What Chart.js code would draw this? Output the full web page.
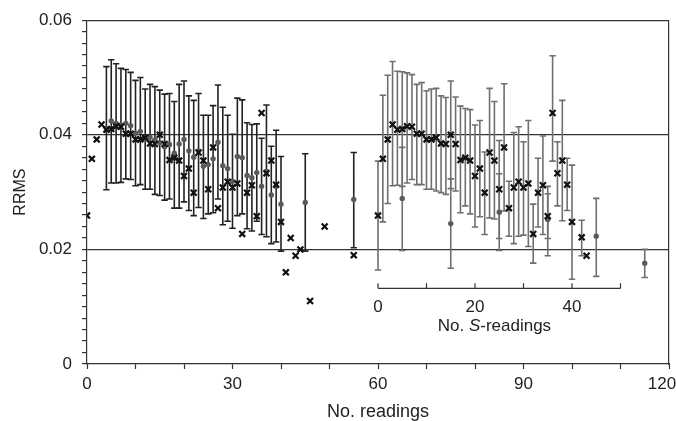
<!DOCTYPE html>
<html>
<head>
<meta charset="utf-8">
<title>RRMS vs number of readings</title>
<script src="https://cdn.jsdelivr.net/npm/chart.js@4.4.1/dist/chart.umd.min.js"></script>
<style>
  html, body { margin: 0; padding: 0; background: #fff; }
</style>
</head>
<body>
<canvas id="rrmsChart" width="676" height="421"></canvas>
<script>
// RRMS for every reading (crosses, left group)
const readingN = [0, 1, 2, 3, 4, 5, 6, 7, 8, 9, 10, 11, 12, 13, 14, 15, 16, 17, 18, 19,
  20, 21, 22, 23, 24, 25, 26, 27, 28, 29, 30, 31, 32, 33, 34, 35, 36, 37, 38, 39,
  40, 41, 42, 43, 44, 46, 49, 55];
const readingRrms = [0.0259, 0.0358, 0.0392, 0.0418, 0.0409, 0.0410, 0.0415, 0.0414, 0.0402, 0.0402,
  0.0392, 0.0392, 0.0395, 0.0385, 0.0384, 0.0400, 0.0384, 0.0356, 0.0360, 0.0355,
  0.0328, 0.0341, 0.0299, 0.0369, 0.0355, 0.0305, 0.0378, 0.0272, 0.0308, 0.0318,
  0.0308, 0.0315, 0.0227, 0.0299, 0.0312, 0.0258, 0.0438, 0.0333, 0.0355, 0.0313,
  0.0248, 0.0160, 0.0220, 0.0189, 0.0200, 0.0110, 0.0240, 0.0190];

// mean RRMS with spread (grey dots, dark bars, left group)
const meanN = [4, 5, 6, 7, 8, 9, 10, 11, 12, 13, 14, 15, 16, 17, 18, 19, 20, 21, 22, 23,
  24, 25, 26, 27, 28, 29, 30, 31, 32, 33, 34, 35, 36, 37, 38, 39, 40, 45, 55];
const meanRrms = [0.0411, 0.0424, 0.0420, 0.0417, 0.0420, 0.0416, 0.0403, 0.0406, 0.0393, 0.0396,
  0.0391, 0.0386, 0.0379, 0.0383, 0.0368, 0.0384, 0.0392, 0.0372, 0.0361, 0.0372,
  0.0345, 0.0348, 0.0358, 0.0387, 0.0346, 0.0341, 0.0319, 0.0362, 0.0360, 0.0329,
  0.0325, 0.0334, 0.0310, 0.0336, 0.0295, 0.0310, 0.0279, 0.0282, 0.0287];
const meanHigh = [0.0519, 0.0531, 0.0524, 0.0516, 0.0514, 0.0509, 0.0495, 0.0500, 0.0480, 0.0488,
  0.0484, 0.0478, 0.0471, 0.0472, 0.0458, 0.0488, 0.0494, 0.0468, 0.0460, 0.0472,
  0.0434, 0.0434, 0.0451, 0.0487, 0.0448, 0.0434, 0.0401, 0.0464, 0.0461, 0.0421,
  0.0418, 0.0419, 0.0394, 0.0452, 0.0380, 0.0408, 0.0362, 0.0367, 0.0369];
const meanLow = [0.0304, 0.0316, 0.0316, 0.0317, 0.0323, 0.0322, 0.0311, 0.0313, 0.0305, 0.0305,
  0.0296, 0.0294, 0.0286, 0.0288, 0.0272, 0.0272, 0.0283, 0.0268, 0.0259, 0.0273,
  0.0254, 0.0262, 0.0264, 0.0288, 0.0243, 0.0249, 0.0237, 0.0259, 0.0262, 0.0236,
  0.0232, 0.0249, 0.0226, 0.0222, 0.0210, 0.0213, 0.0197, 0.0197, 0.0203];

// S-readings (crosses with grey bars, right group, own axis)
const sReadingN = [0, 1, 2, 3, 4, 5, 6, 7, 8, 9, 10, 11, 12, 13, 14, 15, 16, 17, 18, 19,
  20, 21, 22, 23, 24, 25, 26, 27, 28, 29, 30, 31, 32, 33, 34, 35, 36, 37, 38, 39,
  40, 42, 43];
const sReadingRrms = [0.0259, 0.0358, 0.0392, 0.0418, 0.0409, 0.0410, 0.0415, 0.0414, 0.0402, 0.0402,
  0.0392, 0.0392, 0.0395, 0.0385, 0.0384, 0.0400, 0.0384, 0.0356, 0.0360, 0.0355,
  0.0328, 0.0341, 0.0299, 0.0369, 0.0355, 0.0305, 0.0378, 0.0272, 0.0308, 0.0318,
  0.0308, 0.0315, 0.0227, 0.0299, 0.0312, 0.0258, 0.0438, 0.0333, 0.0355, 0.0313,
  0.0248, 0.0221, 0.0189];
const sHigh = [0.0354, 0.0469, 0.0504, 0.0528, 0.0511, 0.0510, 0.0508, 0.0505, 0.0488, 0.0491,
  0.0477, 0.0480, 0.0481, 0.0468, 0.0465, 0.0494, 0.0466, 0.0450, 0.0446, 0.0444,
  0.0417, 0.0425, 0.0370, 0.0481, 0.0458, 0.0390, 0.0489, 0.0319, 0.0404, 0.0414,
  0.0388, 0.0425, 0.0279, 0.0359, 0.0398, 0.0297, 0.0538, 0.0388, 0.0460, 0.0359,
  0.0347, 0.0251, null];
const sLow = [0.0164, 0.0248, 0.0280, 0.0311, 0.0312, 0.0310, 0.0316, 0.0322, 0.0313, 0.0313,
  0.0305, 0.0305, 0.0302, 0.0299, 0.0296, 0.0306, 0.0302, 0.0264, 0.0276, 0.0262,
  0.0239, 0.0257, 0.0226, 0.0255, 0.0253, 0.0219, 0.0267, 0.0223, 0.0210, 0.0223,
  0.0225, 0.0205, 0.0176, 0.0239, 0.0226, 0.0219, 0.0354, 0.0276, 0.0250, 0.0268,
  0.0148, 0.0189, null];

// mean over S-readings every 10 (grey dots, right group)
const sMeanN = [5, 15, 25, 35, 45, 55];
const sMeanRrms = [0.0289, 0.0245, 0.0265, 0.0252, 0.0223, 0.0176];
const sMeanHigh = [0.0378, 0.0323, 0.0332, 0.0310, 0.0289, 0.0200];
const sMeanLow = [0.0198, 0.0167, 0.0198, 0.0189, 0.0153, 0.0151];

const xTickLabels = [0, 30, 60, 90, 120];
const yTickLabels = [0, 0.02, 0.04, 0.06];
const sTicks = [0, 10, 20, 30, 40, 50];
const sTickLabels = [0, 20, 40];

const S_OFFSET = 60;        // S-readings sit on the main axis shifted by this
const S_AXIS_AT = 0.0132;   // RRMS level of the inset S-readings axis
const S_TITLE_AT = 24;      // S value the inset title is centred on

const AXIS = "#333";
const FONT = '"Liberation Sans", Arial, sans-serif';

// helpers to turn value arrays into points
function points(xs, ys, shift = 0) {
  return xs.map((x, i) => ({ x: x + shift, y: ys[i] })).filter((p) => p.y != null);
}
function stems(xs, lows, highs, shift = 0) {
  const pts = [];
  xs.forEach((x, i) => {
    if (lows[i] == null || highs[i] == null) return;
    pts.push({ x: x + shift, y: lows[i] }, { x: x + shift, y: highs[i] }, { x: x + shift, y: null });
  });
  return pts;
}
function caps(xs, lows, highs, shift = 0) {
  return points(xs, lows, shift).concat(points(xs, highs, shift));
}

function crossSet(data) {
  return {
    data, order: 0, showLine: false,
    pointStyle: "crossRot", pointRadius: 4.2, pointBorderWidth: 2.2,
    borderColor: "#111", backgroundColor: "#111",
  };
}
function dotSet(data, color) {
  return {
    data, order: 1, showLine: false,
    pointStyle: "circle", pointRadius: 2.7, pointBorderWidth: 0,
    backgroundColor: color, borderColor: color,
  };
}
function stemSet(data, color) {
  return {
    data, order: 2, showLine: true, spanGaps: false,
    pointRadius: 0, borderWidth: 1.6, borderColor: color,
  };
}
function capSet(data, color) {
  return {
    data, order: 2, showLine: false,
    pointStyle: "line", pointRadius: 3.2, pointBorderWidth: 1.6,
    borderColor: color, backgroundColor: color,
  };
}

const leftBar = "#222";
const rightBar = "#6f6f6f";
const dotColor = "#5a5a5a";

// inset axis for the S-readings, drawn on the main x scale
const sAxisPlugin = {
  id: "sAxis",
  beforeDatasetsDraw(chart) {
    const { ctx, scales: { x, y } } = chart;
    const yPix = y.getPixelForValue(S_AXIS_AT);
    const px = (s) => x.getPixelForValue(S_OFFSET + s);

    ctx.save();
    ctx.strokeStyle = AXIS;
    ctx.lineWidth = 1.2;
    ctx.beginPath();
    ctx.moveTo(px(sTicks[0]), yPix);
    ctx.lineTo(px(sTicks[sTicks.length - 1]), yPix);
    sTicks.forEach((t) => {
      ctx.moveTo(px(t), yPix);
      ctx.lineTo(px(t), yPix - 5);
    });
    ctx.stroke();

    ctx.fillStyle = "#222";
    ctx.textAlign = "center";
    ctx.textBaseline = "middle";
    ctx.font = "17px " + FONT;
    sTickLabels.forEach((t) => ctx.fillText(String(t), px(t), yPix + 19));

    // "No. S-readings" with an italic S
    const parts = [
      { text: "No. ", font: "17px " + FONT },
      { text: "S", font: "italic 17px " + FONT },
      { text: "-readings", font: "17px " + FONT },
    ];
    const widths = parts.map((p) => { ctx.font = p.font; return ctx.measureText(p.text).width; });
    const total = widths.reduce((a, b) => a + b, 0);
    let cx = px(S_TITLE_AT) - total / 2;
    ctx.textAlign = "left";
    parts.forEach((p, i) => {
      ctx.font = p.font;
      ctx.fillText(p.text, cx, yPix + 38);
      cx += widths[i];
    });
    ctx.restore();
  },
};

new Chart(document.getElementById("rrmsChart"), {
  type: "scatter",
  data: {
    datasets: [
      crossSet(points(readingN, readingRrms)),
      crossSet(points(sReadingN, sReadingRrms, S_OFFSET)),
      dotSet(points(meanN, meanRrms), dotColor),
      dotSet(points(sMeanN, sMeanRrms, S_OFFSET), dotColor),
      stemSet(stems(meanN, meanLow, meanHigh), leftBar),
      capSet(caps(meanN, meanLow, meanHigh), leftBar),
      stemSet(stems(sReadingN, sLow, sHigh, S_OFFSET), rightBar),
      capSet(caps(sReadingN, sLow, sHigh, S_OFFSET), rightBar),
      stemSet(stems(sMeanN, sMeanLow, sMeanHigh, S_OFFSET), rightBar),
      capSet(caps(sMeanN, sMeanLow, sMeanHigh, S_OFFSET), rightBar),
    ],
  },
  options: {
    responsive: false,
    animation: false,
    layout: { padding: { top: 15, right: 7, left: 0, bottom: 0 } },
    plugins: { legend: { display: false }, tooltip: { enabled: false } },
    scales: {
      x: {
        type: "linear",
        min: 0,
        max: 120,
        border: { display: true, color: AXIS, width: 1.2 },
        grid: { drawOnChartArea: false, drawTicks: true, tickLength: 5, tickColor: AXIS, tickWidth: 1.2 },
        ticks: {
          stepSize: 10,
          autoSkip: false,
          maxRotation: 0,
          padding: 5,
          color: "#222",
          font: { family: FONT, size: 17 },
          // the last label is padded so it stays inside the canvas
          callback: (v) => {
            if (!xTickLabels.includes(v)) return "";
            return v === xTickLabels[xTickLabels.length - 1] ? v + "   " : String(v);
          },
        },
        title: {
          display: true,
          text: "No. readings",
          color: "#222",
          font: { family: FONT, size: 18, lineHeight: 1 },
          padding: { top: 0, bottom: 0 },
        },
        afterFit: (scale) => {
          scale.height = 57;
          scale.paddingLeft = 0;
          scale.paddingRight = 0;
        },
      },
      y: {
        min: 0,
        max: 0.06,
        border: { display: true, color: AXIS, width: 1.2 },
        grid: {
          drawTicks: true,
          tickLength: 5,
          tickColor: AXIS,
          tickWidth: 1.2,
          lineWidth: 1.2,
          color: (ctx) =>
            ctx.tick && yTickLabels.some((t) => t > 0 && Math.abs(t - ctx.tick.value) < 1e-9)
              ? AXIS
              : "rgba(0,0,0,0)",
        },
        ticks: {
          stepSize: 0.002,
          autoSkip: false,
          padding: 10,
          color: "#222",
          font: { family: FONT, size: 17 },
          callback: (v) => {
            const t = yTickLabels.find((l) => Math.abs(l - v) < 1e-9);
            if (t === undefined) return "";
            return t === 0 ? "0" : t.toFixed(2);
          },
        },
        title: {
          display: true,
          text: "RRMS",
          color: "#222",
          font: { family: FONT, size: 16, lineHeight: 1 },
          padding: { top: 13, bottom: 0 },
        },
        afterFit: (scale) => {
          scale.width = 87;
        },
      },
      yRight: {
        position: "right",
        min: 0,
        max: 0.06,
        border: { display: true, color: AXIS, width: 1.2 },
        grid: { drawOnChartArea: false, drawTicks: false },
        ticks: { display: false },
        afterFit: (scale) => {
          scale.width = 0;
        },
      },
    },
  },
  plugins: [sAxisPlugin],
});
</script>
</body>
</html>
